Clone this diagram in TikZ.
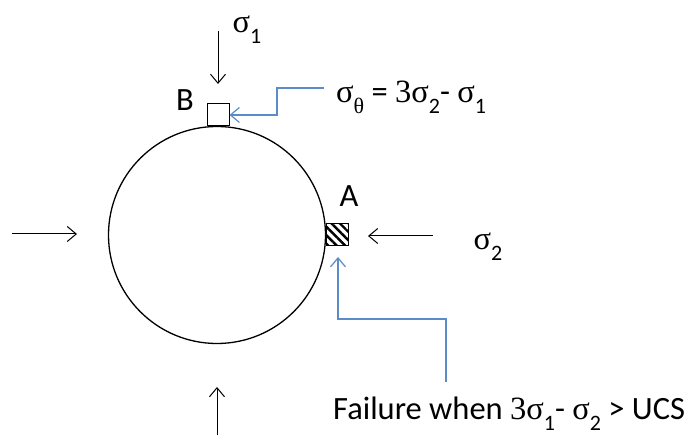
\documentclass[tikz,border=0pt]{standalone}
\usepackage{fontspec}
\setmainfont{Carlito}
\newfontfamily\sy{Liberation Serif}
\usetikzlibrary{arrows.meta,patterns.meta}
\definecolor{lblue}{RGB}{91,140,200}
\newcommand\sig{{\sy σ}}
\newcommand\thsub{{\sy θ}}
\newcommand\mysub[1]{\raisebox{-0.33em}{\fontsize{22}{22}\selectfont #1}}
\begin{document}
\begin{tikzpicture}[x=1pt,y=-1pt,
  lbl/.style={inner sep=0pt,font=\fontsize{32.5}{36}\selectfont},
  force/.style={line width=1pt,-{Straight Barb[length=9pt,width=15pt,line width=1pt]}},
  callout/.style={draw=lblue,line width=1.2pt,-{Straight Barb[length=9pt,width=15pt,line width=1.2pt]}},
  box/.style={draw,line width=1pt,minimum size=22pt,inner sep=0pt}]
\useasboundingbox (0,0) rectangle (689,435);
% hole
\node[circle,draw,line width=1.3pt,minimum size=217pt,inner sep=0pt] (C) at (217,235) {};
% elements
\node[box] (B) at (218,115) {};
\node[box,pattern={Lines[angle=-45,distance=6pt,line width=2.4pt]},pattern color=black] (A) at (337,235) {};
% labels
\node[lbl,anchor=base] (lB) at (185,111) {B};
\node[lbl,anchor=base] (lA) at (349,207) {A};
\node[lbl,anchor=base] (s1) at (247,33) {\sig\mysub{1}};
\node[lbl,anchor=base] (s2) at (488,250) {\sig\mysub{2}};
\node[lbl,anchor=base west] (eq) at (336,103) {\sig\mysub{\thsub} = {\sy 3}\sig\mysub{2}- \sig\mysub{1}};
\node[lbl,anchor=base west] (fail) at (333,420) {Failure when {\sy 3}\sig\mysub{1}- \sig\mysub{2} > UCS};
% force arrows
\coordinate (t0) at (218,31); \coordinate (t1) at (218,84);
\coordinate (r0) at (433,236); \coordinate (r1) at (368,236);
\coordinate (l0) at (12,234); \coordinate (l1) at (77,234);
\coordinate (b0) at (217,435); \coordinate (b1) at (217,387);
\draw[force] (t0) -- (t1);
\draw[force] (r0) -- (r1);
\draw[force] (l0) -- (l1);
\draw[force] (b0) -- (b1);
% callouts
\coordinate (c1) at (324,88);
\coordinate (c1k) at (277,88);
\draw[callout] (c1) -- (c1k) |- (B.east);
\coordinate (c2) at (446,382);
\coordinate (c2k) at (446,319);
\coordinate (c2m) at (338,319);
\coordinate (c2e) at (338,257);
\draw[callout] (c2) -- (c2k) -- (c2m) -- (c2e);
\end{tikzpicture}
\end{document}
